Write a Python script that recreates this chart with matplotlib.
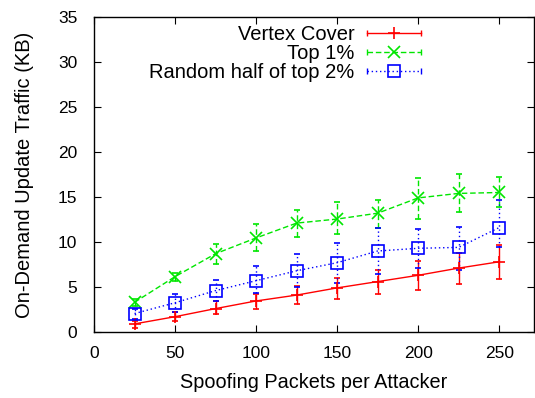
import matplotlib
matplotlib.use("Agg")
import matplotlib.pyplot as plt
import numpy as np
from matplotlib.lines import Line2D
from matplotlib.legend_handler import HandlerBase

plt.rcParams['font.family'] = ['Liberation Sans', 'DejaVu Sans']

packets = [25, 50, 75, 100, 125, 150, 175, 200, 225, 250]

vc_y = [0.9, 1.7, 2.6, 3.45, 4.1, 4.9, 5.6, 6.3, 7.1, 7.8]
vc_lo = [0.5, 1.25, 2.0, 2.55, 3.1, 3.7, 4.2, 4.7, 5.3, 5.9]
vc_hi = [1.25, 2.25, 3.4, 4.2, 5.1, 6.0, 6.9, 7.9, 8.8, 9.7]

top1_y = [3.3, 6.15, 8.7, 10.45, 12.1, 12.55, 13.2, 14.9, 15.4, 15.5]
top1_lo = [2.9, 5.7, 7.6, 9.0, 10.6, 10.9, 11.6, 12.6, 13.3, 13.9]
top1_hi = [3.7, 6.6, 9.8, 11.95, 13.5, 14.4, 14.7, 17.1, 17.5, 17.25]

rnd_y = [2.05, 3.25, 4.6, 5.7, 6.8, 7.7, 9.0, 9.3, 9.4, 11.6]
rnd_lo = [1.4, 2.25, 3.4, 4.3, 5.0, 5.5, 6.4, 7.1, 6.9, 9.5]
rnd_hi = [2.6, 4.2, 5.75, 7.3, 8.7, 9.85, 11.6, 11.5, 11.7, 14.7]

labels = ['Vertex Cover', 'Top 1%', 'Random half of top 2%']
x_ticks = [0, 50, 100, 150, 200, 250]
y_ticks = [0, 5, 10, 15, 20, 25, 30, 35]

fig = plt.figure(figsize=(5.35, 3.98), dpi=100)
ax = fig.add_axes([94/535, 66/398, (534-94)/535, (332-17)/398])

series = [
    (vc_y, vc_lo, vc_hi, '#ff0000', '-', '+'),
    (top1_y, top1_lo, top1_hi, '#00e600', (0, (4, 2)), 'x'),
    (rnd_y, rnd_lo, rnd_hi, '#0000ff', (0, (1, 2)), 's'),
]

for (y, lo, hi, c, ls, mk) in series:
    y = np.array(y); lo = np.array(lo); hi = np.array(hi)
    yerr = np.vstack([y - lo, hi - y])
    eb = ax.errorbar(packets, y, yerr=yerr, color=c, ls=ls, lw=1.0,
                     marker=mk, ms=9 if mk != 's' else 8, mfc='none', mew=1.2,
                     capsize=2.5, elinewidth=1.0, capthick=1.0)
    for bar in eb[2]:
        bar.set_linestyle(ls)


class ErrHandler(HandlerBase):
    def __init__(self, color, ls, marker, **kw):
        super().__init__(**kw)
        self.color, self.ls, self.marker = color, ls, marker

    def create_artists(self, legend, orig_handle, xdescent, ydescent,
                       width, height, fontsize, trans):
        yc = height / 2 - ydescent
        x0, x1 = -xdescent, -xdescent + width
        line = Line2D([x0, x1], [yc, yc], color=self.color, ls=self.ls, lw=1.0)
        caps = Line2D([x0, x1], [yc, yc], color=self.color, ls='none',
                      marker='|', ms=5, mew=1.0)
        mk = Line2D([(x0 + x1) / 2], [yc], color=self.color, ls='none',
                    marker=self.marker, ms=9 if self.marker != 's' else 8,
                    mfc='none', mew=1.2)
        arts = [line, caps, mk]
        for a in arts:
            a.set_transform(trans)
        return arts


handles = [Line2D([], []) for _ in labels]
hmap = {h: ErrHandler(s[3], s[4], s[5]) for h, s in zip(handles, series)}
leg = ax.legend(handles, labels, handler_map=hmap, loc='upper right',
                bbox_to_anchor=(421/535, 1 - 25/398), bbox_transform=fig.transFigure,
                frameon=False, markerfirst=False, fontsize=14.5,
                handlelength=2.7, handletextpad=0.6, labelspacing=0.0,
                borderpad=0, borderaxespad=0)

ax.set_xlim(0, 271.5)
ax.set_ylim(0, 35)
ax.set_xticks(x_ticks)
ax.set_yticks(y_ticks)
ax.tick_params(direction='in', top=True, right=True, length=5, width=0.8,
               labelsize=12.5)
ax.tick_params(axis='y', pad=12)
ax.tick_params(axis='x', pad=10)
for s in ax.spines.values():
    s.set_linewidth(1.0)
ax.set_xlabel('Spoofing Packets per Attacker', fontsize=14.3, labelpad=9)
ax.set_ylabel('On-Demand Update Traffic (KB)', fontsize=14.5, labelpad=17)

fig.savefig('out.png', dpi=100)
